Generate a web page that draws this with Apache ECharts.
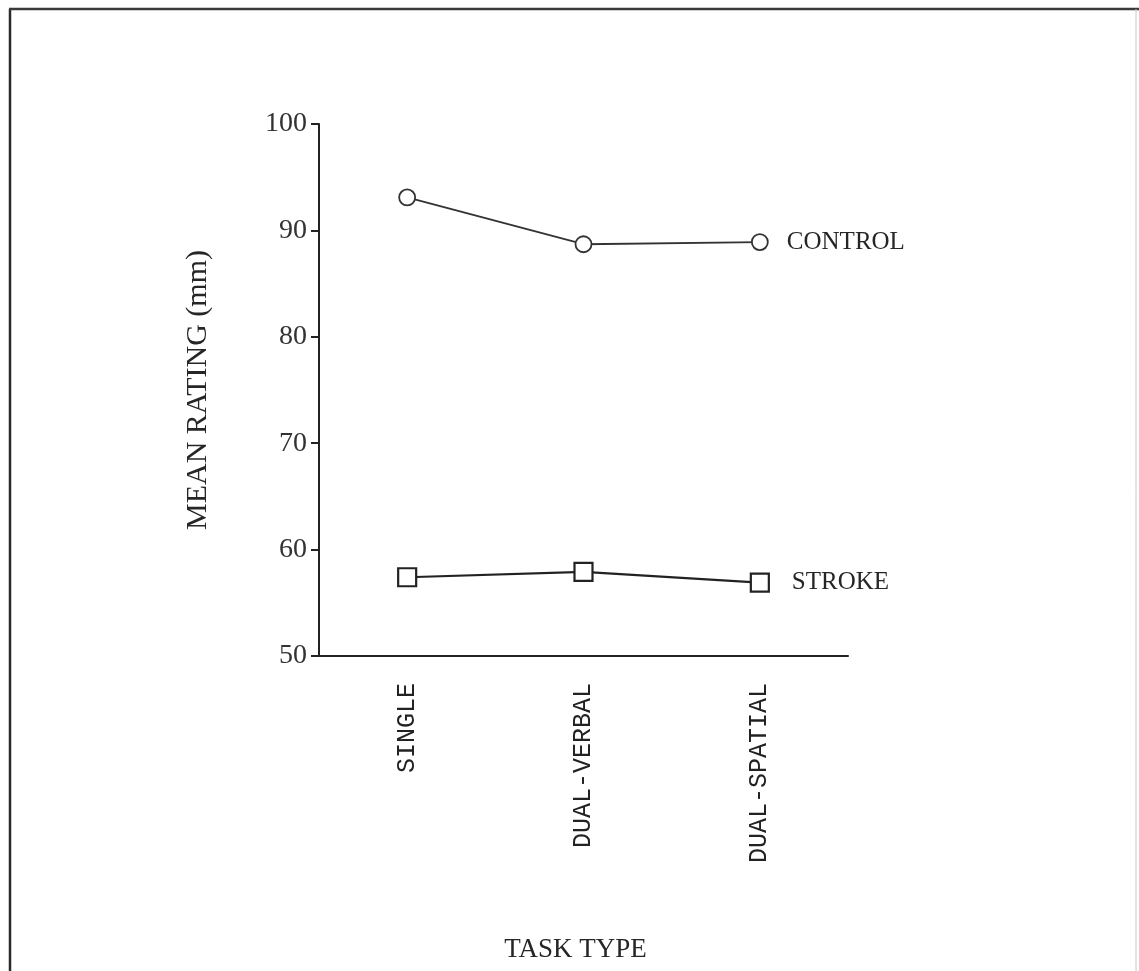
<!DOCTYPE html>
<html>
<head>
<meta charset="utf-8">
<script src="https://cdn.jsdelivr.net/npm/echarts@6/dist/echarts.min.js"></script>
<style>
html,body{margin:0;padding:0;background:#fff;}
#c{width:1139px;height:971px;}
</style>
</head>
<body>
<div id="c"></div>
<script>
var categories = ['SINGLE', 'DUAL-VERBAL', 'DUAL-SPATIAL'];
var controlValues = [93.1, 88.7, 88.9];
var strokeValues = [57.4, 57.9, 56.9];
var yTicks = {min: 50, max: 100, interval: 10};

var chart = echarts.init(document.getElementById('c'));
var serif = '"Liberation Serif", "DejaVu Serif", serif';
var ink = '#262626';
chart.setOption({
  animation: false,
  backgroundColor: '#fff',
  graphic: [
    {type: 'line', shape: {x1: 10, y1: 9, x2: 10, y2: 975}, style: {stroke: '#2a2a2a', lineWidth: 2.5}},
    {type: 'line', shape: {x1: 9, y1: 9, x2: 1139, y2: 9}, style: {stroke: '#3a3a3a', lineWidth: 2.5}},
    {type: 'line', shape: {x1: 1136, y1: 9, x2: 1136, y2: 975}, style: {stroke: '#c8c8c8', lineWidth: 1}}
  ],
  grid: {left: 319, top: 124, right: 291, bottom: 315, containLabel: false},
  xAxis: {
    type: 'category',
    data: categories,
    boundaryGap: true,
    name: 'TASK TYPE',
    nameLocation: 'middle',
    nameGap: 280,
    nameTextStyle: {fontFamily: serif, fontSize: 27, color: ink, padding: [0, 16, 0, 0]},
    axisLine: {lineStyle: {color: '#222', width: 2}},
    axisTick: {alignWithLabel: true, length: 10, lineStyle: {color: '#222', width: 2}},
    axisLabel: {rotate: 90, margin: 27, fontFamily: '"Liberation Mono", "DejaVu Sans Mono", monospace', fontSize: 25, color: '#222'}
  },
  yAxis: {
    type: 'value',
    min: yTicks.min, max: yTicks.max, interval: yTicks.interval,
    name: 'MEAN RATING (mm)',
    nameLocation: 'middle',
    nameGap: 106,
    nameTextStyle: {fontFamily: serif, fontSize: 30, color: ink},
    axisLine: {show: true, lineStyle: {color: '#222', width: 2}},
    axisTick: {show: true, length: 8, lineStyle: {color: '#222', width: 2}},
    axisLabel: {margin: 12, fontFamily: serif, fontSize: 28, color: '#333'},
    splitLine: {show: false}
  },
  series: [
    {
      name: 'CONTROL', type: 'line', data: controlValues,
      symbol: 'circle', symbolSize: 16,
      lineStyle: {color: '#333', width: 1.8},
      itemStyle: {color: '#fff', borderColor: '#333', borderWidth: 1.8},
      endLabel: {show: true, formatter: '{a}', distance: 27, fontFamily: serif, fontSize: 25, color: ink}
    },
    {
      name: 'STROKE', type: 'line', data: strokeValues,
      symbol: 'rect', symbolSize: 18,
      lineStyle: {color: '#222', width: 2.2},
      itemStyle: {color: '#fff', borderColor: '#222', borderWidth: 2.2},
      endLabel: {show: true, formatter: '{a}', distance: 32, fontFamily: serif, fontSize: 25, color: ink}
    }
  ]
});
</script>
</body>
</html>
